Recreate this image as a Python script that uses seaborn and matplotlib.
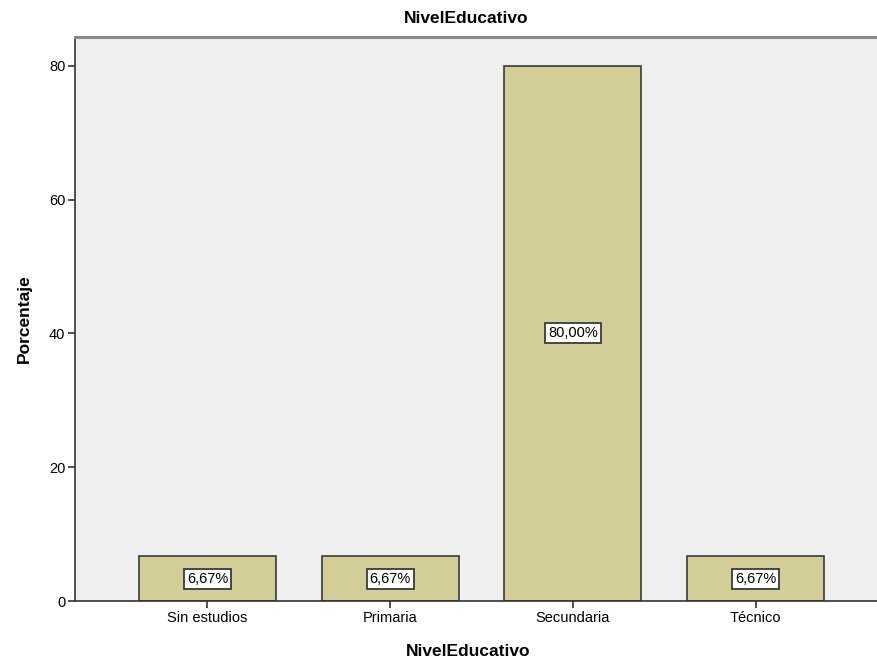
import matplotlib
import pandas as pd
import seaborn as sns

matplotlib.use("Agg")
import matplotlib.pyplot as plt

categories = ["Sin estudios", "Primaria", "Secundaria", "Técnico"]
percentages = [6.67, 6.67, 80.00, 6.67]
value_labels = ["6,67%", "6,67%", "80,00%", "6,67%"]
y_ticks = [0, 20, 40, 60, 80]

df = pd.DataFrame({"NivelEducativo": categories, "Porcentaje": percentages})

sns.set_theme(style="white")
plt.rcParams["font.family"] = ["Liberation Sans", "DejaVu Sans"]

fig = plt.figure(figsize=(8.77, 6.65), dpi=100)
ax = fig.add_axes([0.0855, 0.0962, 0.9145, 0.8482])
ax.set_facecolor("#EFEFEF")

sns.barplot(
    data=df,
    x="NivelEducativo",
    y="Porcentaje",
    color="#D3CE97",
    saturation=1,
    width=0.75,
    edgecolor="#3A3A3A",
    linewidth=1.2,
    ax=ax,
)

# value labels in white boxes, centred in each bar
for i, (val, lab) in enumerate(zip(percentages, value_labels)):
    ax.text(
        i, val / 2, lab,
        ha="center", va="center", fontsize=10.5, color="black",
        bbox=dict(boxstyle="square,pad=0.2", facecolor="white",
                  edgecolor="#3A3A3A", linewidth=1.3),
    )

ax.set_xlim(-0.725, 3.665)
ax.set_ylim(0, 84.3)
ax.set_yticks(y_ticks)
ax.set_yticklabels([str(t) for t in y_ticks])

ax.tick_params(axis="both", which="both", direction="out", length=5, width=1.2,
               color="#333333", labelsize=10.5, labelcolor="black", pad=2,
               left=True, bottom=True)

for side in ["left", "bottom"]:
    ax.spines[side].set_color("#333333")
    ax.spines[side].set_linewidth(1.2)
ax.spines["top"].set_color("#8A8A8A")
ax.spines["top"].set_linewidth(2.2)
ax.spines["right"].set_visible(False)

ax.set_title("NivelEducativo", fontsize=12.5, fontweight="bold", color="black",
             pad=10, x=0.488)
ax.set_xlabel("NivelEducativo", fontsize=12.5, fontweight="bold", color="black", labelpad=14)
ax.xaxis.label.set_x(0.49)
ax.set_ylabel("Porcentaje", fontsize=12.5, fontweight="bold", color="black", labelpad=12)

plt.savefig("out.png", dpi=100)
plt.close(fig)
